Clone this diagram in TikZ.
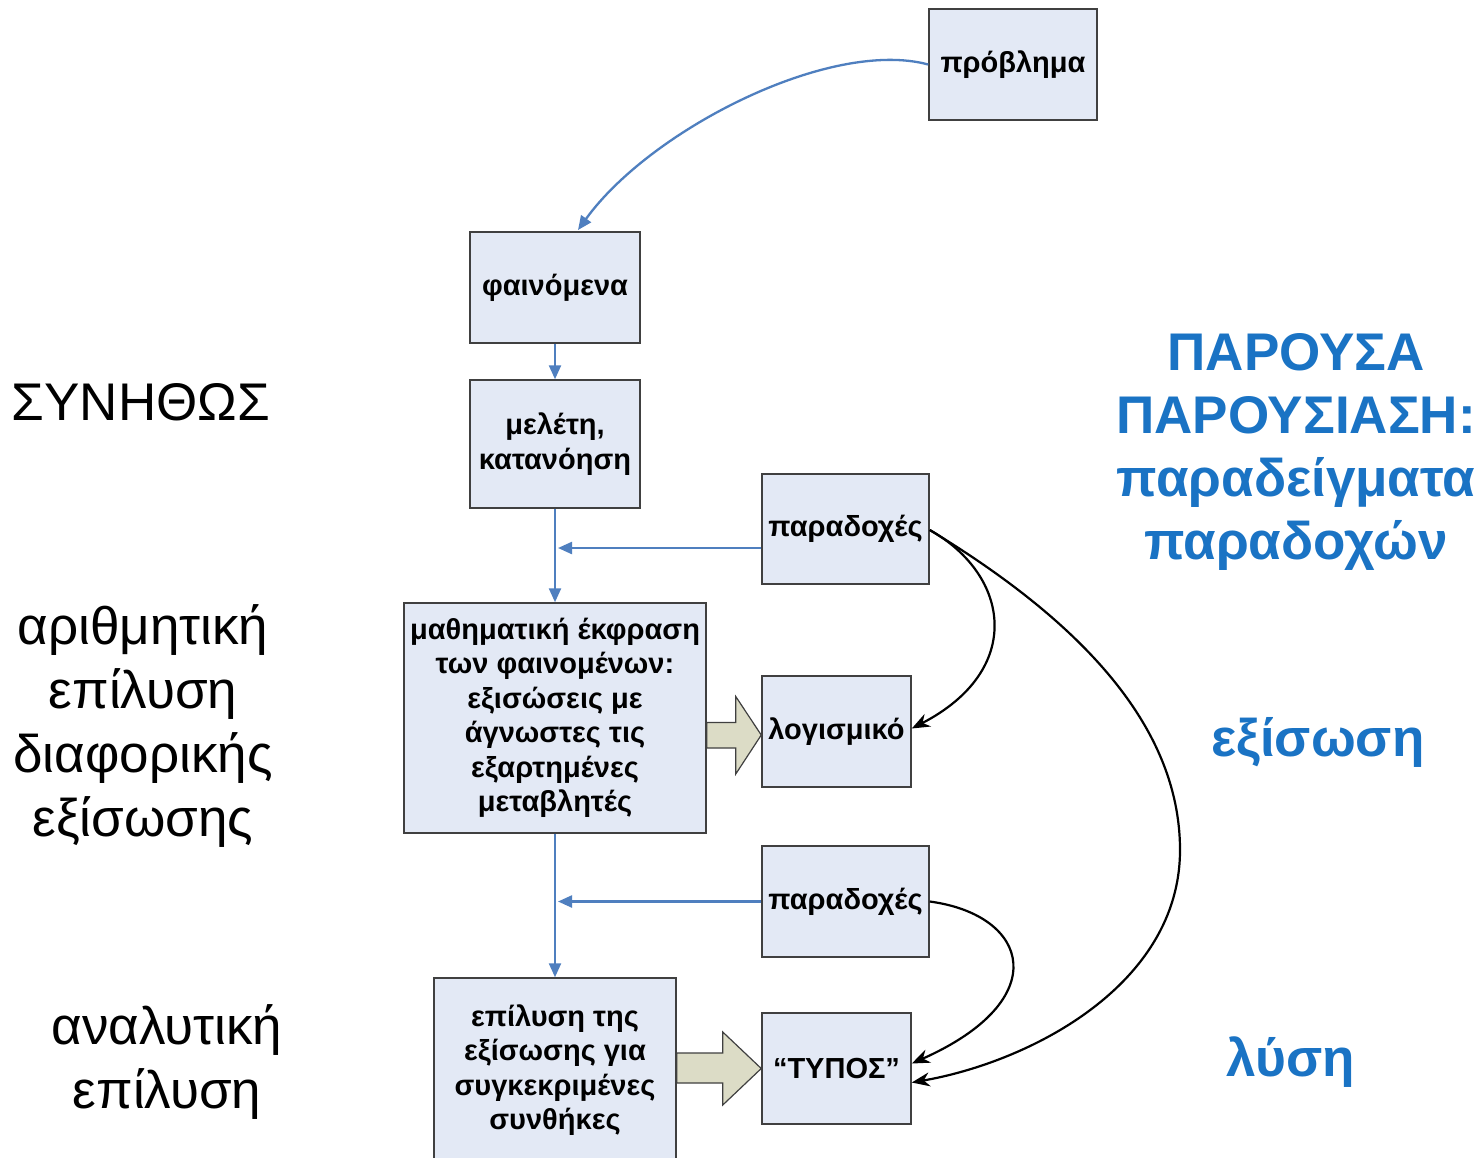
\documentclass[tikz,border=0pt]{standalone}
\usepackage{fontspec}
\setmainfont{Liberation Sans}
\usetikzlibrary{arrows.meta,calc}
\definecolor{boxfill}{HTML}{E3E9F5}
\definecolor{boxline}{HTML}{404040}
\definecolor{flow}{HTML}{4F7FBF}
\definecolor{bluetxt}{HTML}{1A73C4}
\definecolor{blockfill}{HTML}{DCDCC6}
\tikzset{
  box/.style={draw=boxline, fill=boxfill, line width=1.5pt, inner sep=0pt, align=center,
    font=\fontsize{29}{34.5}\selectfont\bfseries},
  flowline/.style={draw=flow, line width=2.3pt, -{Triangle[length=14pt,width=12pt]}},
  blackline/.style={draw=black, line width=2.2pt, -{Stealth[length=18pt,width=14pt]}},
  blockarrow/.style={draw=boxline, fill=blockfill, line width=1.2pt, line join=miter},
  sidetxt/.style={font=\fontsize{53}{64}\selectfont, align=center, inner sep=0pt},
  bluetext/.style={font=\fontsize{53}{63}\selectfont\bfseries, text=bluetxt, align=center, inner sep=0pt},
}
\begin{document}
\begin{tikzpicture}[x=1pt,y=-1pt]
\clip (0,0) rectangle (1483,1157);
\fill[white] (0,0) rectangle (1483,1157);

% boxes
\node[box, minimum width=168pt, minimum height=111pt] (prob) at (1013,64.5) {πρόβλημα};
\node[box, minimum width=170pt, minimum height=111pt] (fain) at (555,287.5) {φαινόμενα};
\node[box, minimum width=170pt, minimum height=128pt] (mel) at (555,444) {μελέτη,\\κατανόηση};
\node[box, minimum width=167pt, minimum height=110pt] (par1) at (845.5,529) {παραδοχές};
\node[box, minimum width=302pt, minimum height=230pt] (math) at (555,718) {μαθηματική έκφραση\\των φαινομένων:\\εξισώσεις με\\άγνωστες τις\\εξαρτημένες\\μεταβλητές};
\node[box, minimum width=149pt, minimum height=111pt] (logi) at (836.5,731.5) {λογισμικό};
\node[box, minimum width=167pt, minimum height=111pt] (par2) at (845.5,901.5) {παραδοχές};
\node[box, minimum width=242pt, minimum height=184pt] (epil) at (555,1070) {επίλυση της\\εξίσωσης για\\συγκεκριμένες\\συνθήκες};
\node[box, minimum width=149pt, minimum height=111pt] (typ) at (836.5,1068.5) {“ΤΥΠΟΣ”};

% blue flow connectors
\draw[flowline] (prob.west) .. controls (830,38) and (650,130) .. (578,230);
\draw[flowline] (fain.south) -- (mel.north);
\draw[flowline] (mel.south) -- (math.north);
\draw[flowline] (math.south) -- (math.south |- epil.north);
\coordinate (j1) at (558,548);
\coordinate (j2) at (558,901.5);
\draw[flowline] (par1.west |- j1) -- (j1);
\draw[flowline] (par2.west) -- (j2);

% block arrows
\draw[blockarrow] ($(math.east)+(0,4.5)$) -- ++(29,0) -- ++(0,-26) -- ($(logi.west)+(0,3.5)$)
  -- ($(math.east)+(29,56)$) -- ++(0,-26) -- ($(math.east)+(0,30)$) -- cycle;
\draw[blockarrow] ($(epil.east)+(0,-17)$) -- ++(46,0) -- ++(0,-21) -- ($(typ.west)+(0,0)$)
  -- ($(epil.east)+(46,35)$) -- ++(0,-22) -- ($(epil.east)+(0,13)$) -- cycle;

% black curved connectors
\draw[blackline] ($(par1.east)+(0,1)$) .. controls (1010,575) and (1025,670) .. ($(logi.east)+(0,-3)$);
\draw[blackline] ($(par1.east)+(0,1)$) .. controls (1070,615) and (1180,720) .. (1180,850)
  .. controls (1180,985) and (1030,1062) .. ($(typ.east)+(0,14)$);
\draw[blackline] (par2.east) .. controls (1030,915) and (1055,1000) .. ($(typ.east)+(0,-5)$);

% left texts
\node[sidetxt] (t1) at (141,402) {ΣΥΝΗΘΩΣ};
\node[sidetxt] (t2) at (143,726) {αριθμητική\\επίλυση\\διαφορικής\\εξίσωσης};
\node[sidetxt] (t3) at (167,1062) {αναλυτική\\επίλυση};

% right blue texts
\node[bluetext] (r1) at (1296,452) {ΠΑΡΟΥΣΑ\\ΠΑΡΟΥΣΙΑΣΗ:\\παραδείγματα\\παραδοχών};
\node[bluetext] (r2) at (1318,742) {εξίσωση};
\node[bluetext] (r3) at (1291,1062) {λύση};
\end{tikzpicture}
\end{document}
